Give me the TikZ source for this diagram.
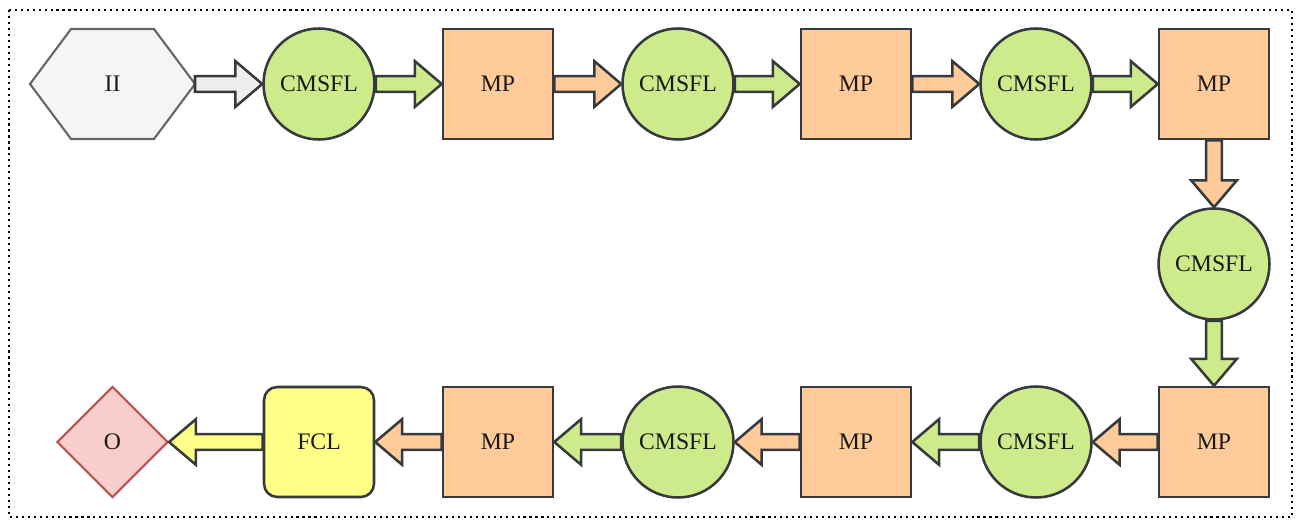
\documentclass[tikz,border=0pt]{standalone}
\usepackage{fontspec}
\setmainfont{Liberation Serif}
\usetikzlibrary{shapes.geometric}
\usetikzlibrary{calc}
\definecolor{rand}{HTML}{36393D}
\definecolor{lindgruen}{HTML}{CDEB8B}
\definecolor{apricot}{HTML}{FFCC99}
\definecolor{zitrone}{HTML}{FFFF88}
\definecolor{hellgrau}{HTML}{F5F5F5}
\definecolor{pfeilgrau}{HTML}{EEEEEE}
\definecolor{randgrau}{HTML}{666666}
\definecolor{rosa}{HTML}{F8CECC}
\definecolor{rostrot}{HTML}{B85450}

% block arrow from #1 to #2, filled with #3
\newcommand{\blockpfeil}[3]{%
    \coordinate (kopf) at ($(#2)!15.3pt!(#1)$);
    \draw[pfeil, fill=#3] ($(#1)!4.5pt!90:(#2)$) -- ($(kopf)!4.5pt!-90:(#1)$)
        -- ($(kopf)!13pt!-90:(#1)$) -- (#2) -- ($(kopf)!13pt!90:(#1)$)
        -- ($(kopf)!4.5pt!90:(#1)$) -- ($(#1)!4.5pt!-90:(#2)$) -- cycle;
}

\tikzset{
    pfeil/.style={draw=rand, line width=1.45pt, line join=miter},
    knoten/.style={draw=rand, line width=1.45pt, text=black!90, inner sep=0pt,
        font=\fontsize{13.5}{15}\selectfont},
    kreis/.style={knoten, circle, fill=lindgruen, minimum size=2.22cm},
    pool/.style={knoten, rectangle, fill=apricot, minimum size=2.2cm},
    fc/.style={knoten, rectangle, rounded corners=7.5pt, fill=zitrone, minimum size=2.2cm},
    raute/.style={knoten, diamond, draw=rostrot, line width=1.2pt, fill=rosa,
        minimum width=2.22cm, minimum height=2.22cm},
}

\begin{document}
\begin{tikzpicture}[x=0.02cm, y=-0.02cm]

    \useasboundingbox (0,0) rectangle (1301,520);
    \draw[line width=1.2pt, dash pattern=on 1.2pt off 2.2pt] (9,10) rectangle (1292,517);

    % input hexagon
    \draw[line width=1.2pt, draw=randgrau, fill=hellgrau]
        (30,84) -- (71,29) -- (154,29) -- (195,84) -- (154,139) -- (71,139) -- cycle;
    \node[knoten, draw=none] (ii) at (112.5,84) {II};
    \coordinate (iiout) at (195,84);

    % top row
    \node[kreis] (c1) at (319,84) {CMSFL};
    \node[pool] (m1) at (498,84) {MP};
    \node[kreis] (c2) at (678,84) {CMSFL};
    \node[pool] (m2) at (856,84) {MP};
    \node[kreis] (c3) at (1036,84) {CMSFL};
    \node[pool] (m3) at (1214,84) {MP};

    % right column
    \node[kreis] (c4) at (1214,264) {CMSFL};
    \node[pool] (m4) at (1214,442) {MP};

    % bottom row
    \node[kreis] (c5) at (1036,442) {CMSFL};
    \node[pool] (m5) at (856,442) {MP};
    \node[kreis] (c6) at (678,442) {CMSFL};
    \node[pool] (m6) at (498,442) {MP};
    \node[fc] (fcl) at (319,442) {FCL};
    \node[raute] (o) at (112.5,442) {O};

    \blockpfeil{iiout}{c1.west}{pfeilgrau}
    \blockpfeil{c1.east}{m1.west}{lindgruen}
    \blockpfeil{m1.east}{c2.west}{apricot}
    \blockpfeil{c2.east}{m2.west}{lindgruen}
    \blockpfeil{m2.east}{c3.west}{apricot}
    \blockpfeil{c3.east}{m3.west}{lindgruen}
    \blockpfeil{m3.south}{c4.north}{apricot}
    \blockpfeil{c4.south}{m4.north}{lindgruen}
    \blockpfeil{m4.west}{c5.east}{apricot}
    \blockpfeil{c5.west}{m5.east}{lindgruen}
    \blockpfeil{m5.west}{c6.east}{apricot}
    \blockpfeil{c6.west}{m6.east}{lindgruen}
    \blockpfeil{m6.west}{fcl.east}{apricot}
    \blockpfeil{fcl.west}{o.east}{zitrone}

\end{tikzpicture}
\end{document}
